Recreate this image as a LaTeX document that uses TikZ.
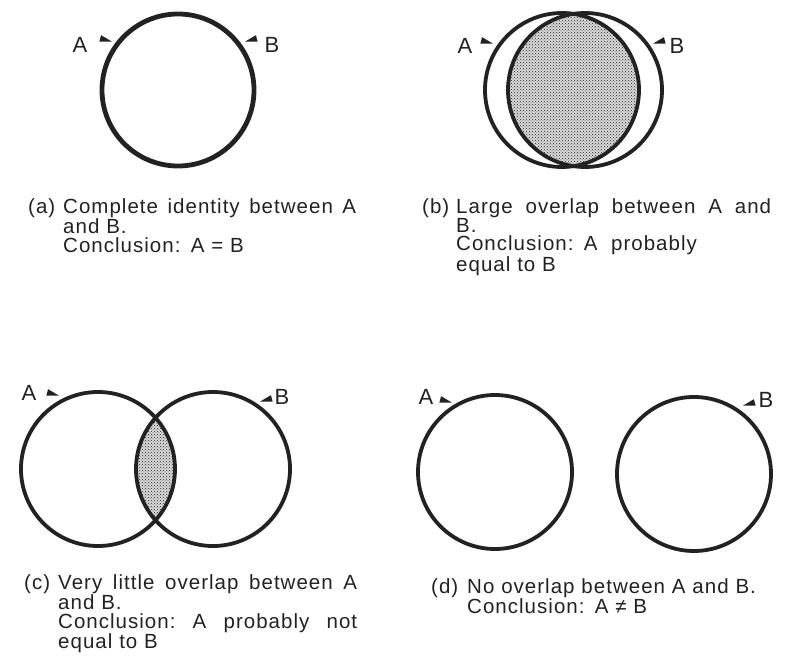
\documentclass[tikz,border=0pt]{standalone}
\usepackage{fontspec}
\setmainfont{Liberation Sans}
\newfontfamily\capfont[LetterSpace=5]{Liberation Sans}
\usetikzlibrary{patterns}
\definecolor{ink}{HTML}{222222}
% justified line: give the word spaces their stretch back
\newcommand{\fullline}[2]{{\frenchspacing\spaceskip=0pt\xspaceskip=0pt\makebox[#1][s]{#2}}}

\begin{document}
\begin{tikzpicture}[
  x=1pt,y=-1pt,
  set/.style={draw=ink,line width=3.8pt},
  lens/.style={fill=black!15,postaction={pattern=crosshatch dots,pattern color=ink}},
  setname/.style={inner sep=0pt,font=\fontsize{22}{22}\selectfont,text=ink},
  tag/.style={anchor=base west,inner sep=0pt,font=\fontsize{20.5}{19}\capfont,text=ink},
  capt/.style={tag,text width=#1,align=left},
  pointer/.pic={\fill[ink] (6,0) -- (-6,-3.4) -- (-6,3.4) -- cycle;}
]
\useasboundingbox (0,0) rectangle (801,658);

% (a) one circle for both sets
\coordinate (a0) at (178,90);
\draw[set,line width=4.8pt] (a0) circle[radius=76pt];
\node[setname] (aA) at (80,45) {A};
\node[setname] (aB) at (272,45) {B};
\pic[rotate=-15] at (106,40) {pointer};
\pic[rotate=195] at (251,40) {pointer};
\node[tag] (ta) at (28,213) {(a)};
\node[capt=293pt] (ca) at (63,213) {\fullline{293pt}{Complete identity between A}\\and B.\\Conclusion: A = B};

% (b) large overlap
\coordinate (bA) at (562,90);
\coordinate (bB) at (585,90);
\begin{scope}
  \clip (bA) circle[radius=77pt];
  \fill[lens] (bB) circle[radius=77pt];
\end{scope}
\draw[set] (bA) circle[radius=77pt];
\draw[set] (bB) circle[radius=77pt];
\node[setname] (nbA) at (465,46) {A};
\node[setname] (nbB) at (677,46) {B};
\pic[rotate=-15] at (487,42) {pointer};
\pic[rotate=195] at (659,42) {pointer};
\node[tag] (tb) at (422,213) {(b)};
\node[capt=315pt] (cb) at (456,213) {\fullline{315pt}{Large overlap between A and}\\B.\\Conclusion: A\ \ probably\\equal to B};

% (c) very little overlap
\coordinate (cA) at (98,469);
\coordinate (cB) at (213,469);
\begin{scope}
  \clip (cA) circle[radius=77pt];
  \fill[lens] (cB) circle[radius=77pt];
\end{scope}
\draw[set] (cA) circle[radius=77pt];
\draw[set] (cB) circle[radius=77pt];
\node[setname] (ncA) at (29,393) {A};
\node[setname] (ncB) at (282,397) {B};
\pic[rotate=-15] at (53,394) {pointer};
\pic[rotate=195] at (266,400) {pointer};
\node[tag] (tc) at (24,589) {(c)};
\node[capt=299pt] (cc) at (58,589) {\fullline{299pt}{Very little overlap between A}\\and B.\\\fullline{299pt}{Conclusion: A probably not}\\equal to B};

% (d) no overlap
\coordinate (dA) at (495,472);
\coordinate (dB) at (694,474);
\draw[set] (dA) circle[radius=77pt];
\draw[set] (dB) circle[radius=77pt];
\node[setname] (ndA) at (426,397) {A};
\node[setname] (ndB) at (766,400) {B};
\pic[rotate=-15] at (446,401) {pointer};
\pic[rotate=195] at (749,404) {pointer};
\node[tag] (td) at (431,593) {(d)};
\node[capt=320pt] (cd) at (467,593) {No overlap between A and B.\\Conclusion: A ≠ B};
\end{tikzpicture}
\end{document}
